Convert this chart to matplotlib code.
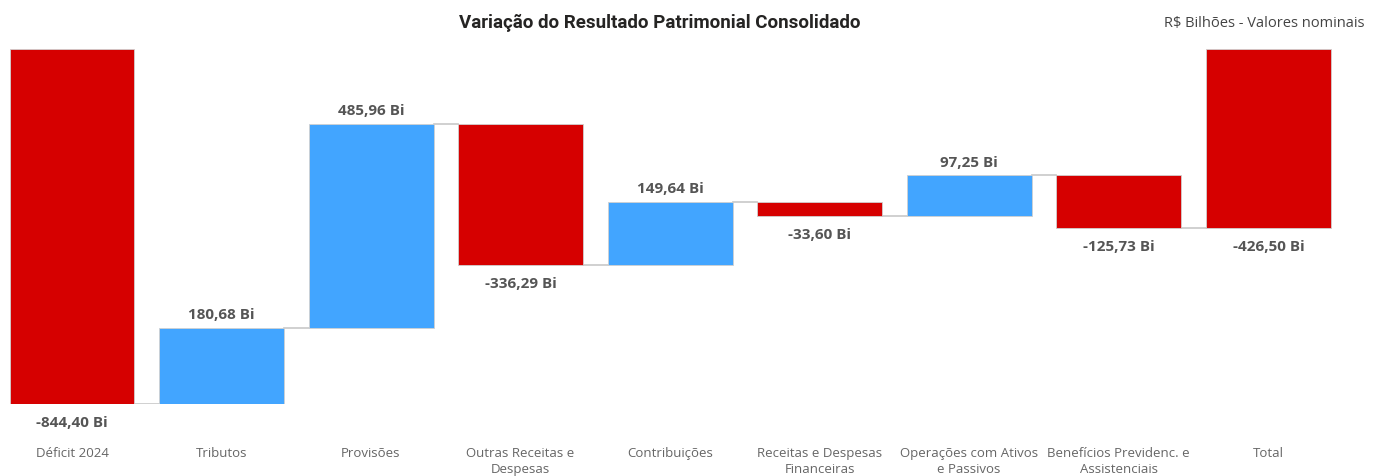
import matplotlib.pyplot as plt
import numpy as np

categories = ["Déficit 2024", "Tributos", "Provisões", "Outras Receitas e\nDespesas",
              "Contribuições", "Receitas e Despesas\nFinanceiras", "Operações com Ativos\ne Passivos",
              "Benefícios Previdenc. e\nAssistenciais", "Total"]
changes = [-844.40, 180.68, 485.96, -336.29, 149.64, -33.60, 97.25, -125.73]
total = -426.50
value_labels = ["-844,40 Bi", "180,68 Bi", "485,96 Bi", "-336,29 Bi", "149,64 Bi",
                "-33,60 Bi", "97,25 Bi", "-125,73 Bi", "-426,50 Bi"]

red = "#d60000"
blue = "#42a5ff"

# build waterfall bottoms / heights
starts = []
ends = []
running = 0.0
for c in changes:
    starts.append(running)
    running += c
    ends.append(running)
starts.append(0.0)
ends.append(total)
deltas = list(changes) + [total]

fig = plt.figure(figsize=(13.8, 4.77), dpi=100)
ax = fig.add_axes([-2.8 / 1380, 1 - 405 / 477, 1346 / 1380, 355 / 477])

x = np.arange(len(categories))
w = 0.835
for i in x:
    lo = min(starts[i], ends[i])
    hi = max(starts[i], ends[i])
    col = red if deltas[i] < 0 else blue
    ax.bar(i, hi - lo, bottom=lo, width=w, color=col, edgecolor="#d0d0d0", linewidth=0.6, zorder=2)
    if deltas[i] < 0:
        ax.annotate(value_labels[i], (i, lo), xytext=(0, -8), textcoords="offset points",
                    ha="center", va="top", fontsize=11, fontweight="bold", color="#555555",
                    family=["Open Sans", "DejaVu Sans"])
    else:
        ax.annotate(value_labels[i], (i, hi), xytext=(0, 5), textcoords="offset points",
                    ha="center", va="bottom", fontsize=11, fontweight="bold", color="#555555",
                    family=["Open Sans", "DejaVu Sans"])
    # connector
    if i < len(categories) - 1:
        ax.plot([i + w / 2, i + 1 - w / 2], [ends[i], ends[i]], color="#c8c8c8", lw=1.2, zorder=1)

ax.set_xlim(-0.5, len(categories) - 0.5)
ax.set_ylim(-844.40, 0)
ax.axis("off")

for i, cat in enumerate(categories):
    fig.text((72 + 149.5 * i) / 1380, 1 - 447 / 477, cat, ha="center", va="top",
             fontsize=9.5, color="#666666", family=["Open Sans", "DejaVu Sans"], linespacing=1.35)

fig.text(660 / 1380, 1 - 23 / 477, "Variação do Resultado Patrimonial Consolidado", ha="center", va="center",
         fontsize=13.5, fontweight="bold", color="#252423",
         family=["Liberation Sans Narrow", "Roboto", "DejaVu Sans"])
fig.text(1365 / 1380, 1 - 24 / 477, r"R\$ Bilhões - Valores nominais", ha="right", va="center",
         fontsize=10.5, color="#444444", family=["Open Sans", "DejaVu Sans"])

plt.savefig("out.png", dpi=100)
